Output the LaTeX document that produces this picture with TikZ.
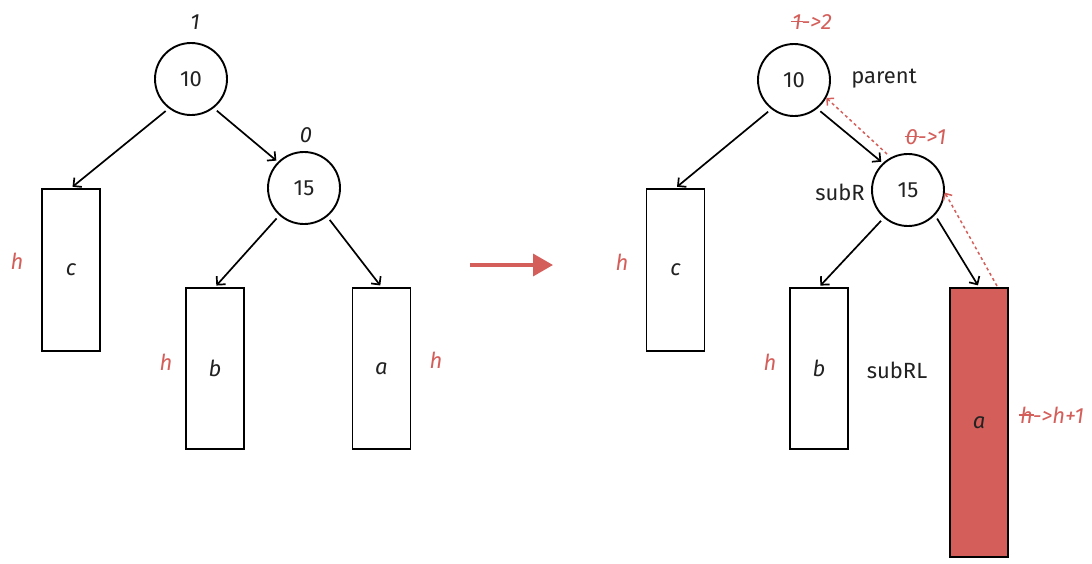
\documentclass[tikz,border=0pt]{standalone}
\usepackage{fontspec}
\setmainfont{Fira Sans}
\usetikzlibrary{arrows.meta}
\definecolor{redc}{RGB}{212,94,90}
\definecolor{txt}{RGB}{34,34,34}
\newcommand\strk[1]{\setbox0\hbox{#1}\rlap{\kern-0.05em\rule[0.33em]{\dimexpr\wd0+0.1em\relax}{0.07em}}\box0}
\begin{document}
\begin{tikzpicture}[x=1pt,y=-1pt,
 every node/.style={font=\fontsize{22}{26}\selectfont, text=txt},
 circ/.style={circle, draw=black, line width=1.9pt, minimum size=72pt, inner sep=0pt},
 tbox/.style={draw=black, line width=1.9pt, minimum width=58pt, inner sep=0pt},
 lbl/.style={font=\fontsize{22}{26}\selectfont\itshape},
 redlbl/.style={lbl, text=redc},
 edge/.style={-{Straight Barb[length=6pt,width=12pt]}, line width=1.7pt, shorten >=2pt, shorten <=4pt},
 back/.style={-{Straight Barb[length=5pt,width=10pt]}, draw=redc, dash pattern=on 3pt off 3pt, line width=1.5pt},
 bigarrow/.style={-{Triangle[length=20pt,width=22pt]}, draw=redc, line width=3.5pt}
]
\useasboundingbox (0,0) rectangle (1092,563);

% ---------- left tree ----------
\node[circ] (l10) at (191,79) {10};
\node[circ] (l15) at (304,188) {15};
\node[tbox, minimum height=162pt] (lc) at (71,270) {\itshape c};
\node[tbox, minimum height=161pt] (lb) at (215,368.5) {\itshape b};
\node[tbox, minimum height=161pt] (la) at (381.5,368.5) {\itshape a};
\node[lbl] (l10h) at (195,22) {1};
\node[lbl] (l15h) at (306,135) {0};
\node[redlbl] (lch) at (17,261) {h};
\node[redlbl] (lbh) at (166,362) {h};
\node[redlbl] (lah) at (436,360) {h};

\draw[edge] (l10.233) -- (lc.north);
\draw[edge] (l10.-52) -- (l15.135);
\draw[edge] (l15.228) -- (lb.north);
\draw[edge] (l15.-51) -- (la.north);

% ---------- transition arrow ----------
\coordinate (ta) at (470,265);
\coordinate (tb) at (553,265);
\draw[bigarrow] (ta) -- (tb);

% ---------- right tree ----------
\node[circ] (r10) at (794,80) {10};
\node[circ] (r15) at (908,190) {15};
\node[tbox, minimum height=162pt] (rc) at (675.5,270) {\itshape c};
\node[tbox, minimum height=161pt] (rb) at (819,368.5) {\itshape b};
\node[tbox, minimum height=269pt, fill=redc] (ra) at (979,422.5) {\itshape a};
\node[redlbl] (r10h) at (812,22) {\strk{1}->2};
\node[redlbl] (r15h) at (926,137) {\strk{0}->1};
\node[redlbl] (rch) at (622,262) {h};
\node[redlbl] (rbh) at (770,362) {h};
\node[redlbl] (rah) at (1052,415) {\strk{h}->h+1};
\node (parent) at (884,79) {parent};
\node (subR) at (840,192) {subR};
\node (subRL) at (897,370) {subRL};

\draw[edge] (r10.232) -- (rc.north);
\draw[edge] (r10.-51) -- (r15.133);
\draw[edge] (r15.229) -- (rb.north);
\draw[edge] (r15.-43) -- (ra.north);

\coordinate (d1s) at (887,154);
\coordinate (d2s) at (997,286);
\draw[back] (d1s) -- (r10.-29);
\draw[back] (d2s) -- (r15.-4);
\end{tikzpicture}
\end{document}
